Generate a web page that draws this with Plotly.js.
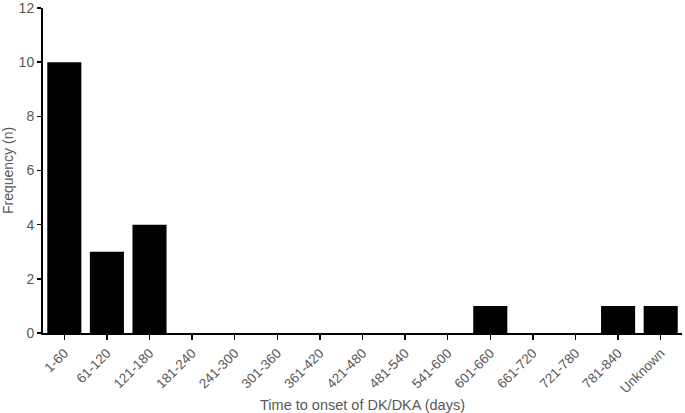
<!DOCTYPE html>
<html>
<head>
<meta charset="utf-8">
<script src="https://cdn.plot.ly/plotly-3.0.1.min.js"></script>
<style>
  html, body { margin: 0; padding: 0; background: #ffffff; }
  #chart { width: 685px; height: 413px; }
</style>
</head>
<body>
<div id="chart"></div>
<script>
  // Time-to-onset bins and counts
  const categories = ['1-60', '61-120', '121-180', '181-240', '241-300', '301-360', '361-420',
    '421-480', '481-540', '541-600', '601-660', '661-720', '721-780', '781-840', 'Unknown'];
  const counts = [10, 3, 4, 0, 0, 0, 0, 0, 0, 0, 1, 0, 0, 1, 1];
  const yTicks = [0, 2, 4, 6, 8, 10, 12];

  const FONT = 'Liberation Sans, Arial, sans-serif';
  const GREY = '#595959';

  const trace = {
    x: categories,
    y: counts,
    type: 'bar',
    marker: { color: '#000000', line: { width: 0 } },
    hoverinfo: 'x+y'
  };

  const layout = {
    width: 685,
    height: 413,
    margin: { l: 43, r: 3, t: 8, b: 80 },
    paper_bgcolor: '#ffffff',
    plot_bgcolor: '#ffffff',
    font: { family: FONT, size: 14, color: GREY },
    bargap: 0.2,
    showlegend: false,
    xaxis: {
      type: 'category',
      tickangle: -45,
      showline: true,
      linecolor: '#000000',
      linewidth: 2,
      ticks: 'outside',
      ticklen: 5,
      tickwidth: 1.5,
      tickcolor: '#000000',
      showgrid: false,
      zeroline: false,
      tickfont: { family: FONT, size: 13.5, color: GREY },
      title: { text: 'Time to onset of DK/DKA (days)', font: { family: FONT, size: 14.5, color: GREY }, standoff: 6 }
    },
    yaxis: {
      range: [0, 12],
      tickvals: yTicks,
      ticklabeloverflow: 'allow',
      showline: true,
      linecolor: '#000000',
      linewidth: 2,
      ticks: 'outside',
      ticklen: 4,
      tickwidth: 1.5,
      tickcolor: '#000000',
      showgrid: false,
      zeroline: false,
      tickfont: { family: FONT, size: 14, color: GREY },
      title: { text: 'Frequency (n)', font: { family: FONT, size: 14, color: GREY }, standoff: 8 }
    }
  };

  Plotly.newPlot('chart', [trace], layout, { displayModeBar: false, staticPlot: true });
</script>
</body>
</html>
